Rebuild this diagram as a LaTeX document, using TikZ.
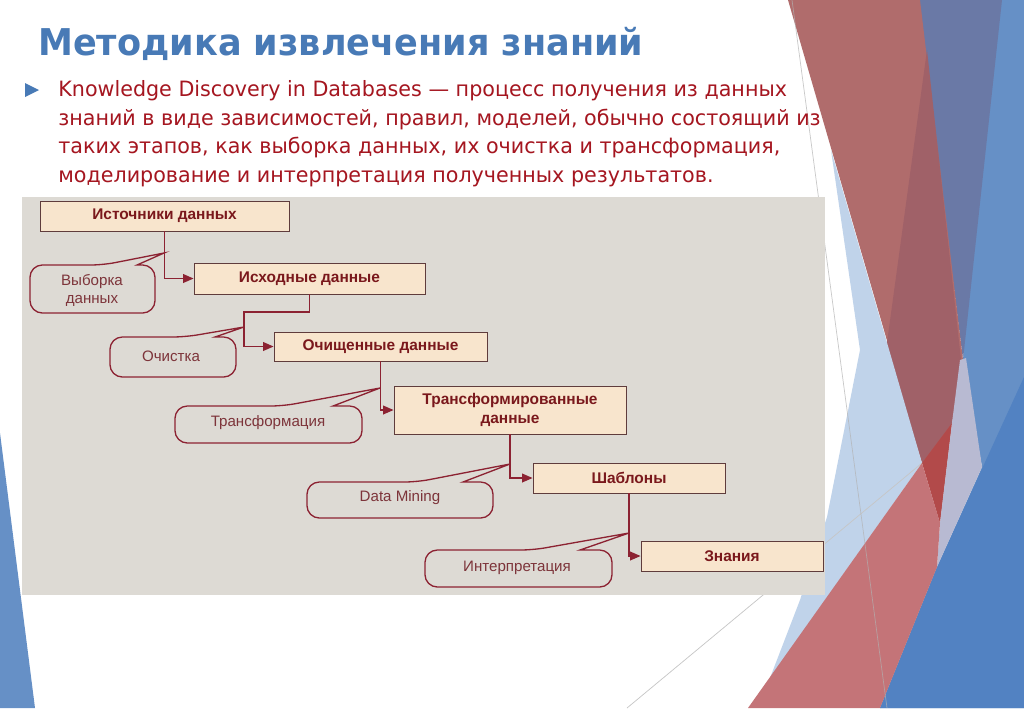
\documentclass[tikz,border=0pt]{standalone}
\usepackage{fontspec}
\setmainfont{DejaVu Sans}
\newfontfamily\titlefont[FakeStretch=0.95]{DejaVu Sans}
\newfontfamily\slidefont[FakeStretch=0.98]{DejaVu Sans}
\newfontfamily\diagfont{Liberation Sans}
\usetikzlibrary{arrows.meta}

\definecolor{titleblue}{RGB}{72,122,182}
\definecolor{bodyred}{RGB}{165,22,32}
\definecolor{boxfill}{RGB}{248,229,205}
\definecolor{boxline}{RGB}{95,60,60}
\definecolor{boxtext}{RGB}{122,24,28}
\definecolor{flowred}{RGB}{140,34,50}
\definecolor{calltxt}{RGB}{125,52,58}
\definecolor{panelgray}{RGB}{221,218,212}
\definecolor{facetred}{RGB}{176,108,108}
\definecolor{facetdark}{RGB}{160,97,104}
\definecolor{facetdeep}{RGB}{178,74,74}
\definecolor{facetlow}{RGB}{196,116,120}
\definecolor{facetslate}{RGB}{106,121,166}
\definecolor{facetblue}{RGB}{102,144,198}
\definecolor{facetnavy}{RGB}{82,130,194}
\definecolor{facetlight}{RGB}{192,211,234}
\definecolor{facetlav}{RGB}{184,186,210}

\tikzset{
  stage/.style={draw=boxline, fill=boxfill, line width=0.5pt, text=boxtext,
    font=\diagfont\bfseries\fontsize{8.8}{10.5}\selectfont, inner sep=0pt, align=center},
  flow/.style={draw=flowred, line width=0.8pt, -{Triangle[length=6pt,width=5pt]}},
  callout/.style={draw=flowred, line width=0.75pt},
  calltext/.style={text=calltxt, font=\diagfont\fontsize{8.6}{10.2}\selectfont, align=center},
}

\begin{document}
\begin{tikzpicture}[x=0.02cm,y=-0.02cm]
\useasboundingbox (0,0) rectangle (1024,708);
\fill[white] (0,0) rectangle (1024,708);

% facets on the right
\fill[facetblue] (990,0) -- (1024,0) -- (1024,708) -- (880,708) -- (937,567) -- (982,467) -- (963,360) -- cycle;
\fill[facetnavy] (1024,377) -- (1024,708) -- (880,708) -- (937,567) -- cycle;
\fill[facetslate] (918,0) -- (1002,0) -- (963,360) -- cycle;
\fill[facetred] (788,0) -- (920,0) -- (963,360) -- (952,423) -- (940,523) -- cycle;
\fill[facetdark] (927,50) -- (961,360) -- (952,423) -- (922,463) -- (886,350) -- cycle;
\fill[facetdeep] (922,463) -- (952,423) -- (940,523) -- cycle;
\fill[facetlav] (952,423) -- (960,360) -- (966,358) -- (982,467) -- (937,567) -- (940,523) -- cycle;
\fill[facetlight] (831,150) -- (922,463) -- (770,678) -- (800,600) -- (827,517) -- (860,350) -- cycle;
\draw[gray!45, line width=0.4pt] (627,708) -- (922,463);
\fill[facetlow] (922,463) -- (748,708) -- (880,708) -- (937,567) -- (940,523) -- cycle;
\draw[gray!60, opacity=0.7, line width=0.4pt] (792,0) -- (887,708);

% facet at the lower left
\fill[facetblue] (0,433) -- (35,708) -- (0,708) -- cycle;

% title and bullet text
\node[anchor=base west, inner sep=0pt, text=titleblue,
  font=\titlefont\bfseries\fontsize{21}{25}\selectfont] (title) at (38,55) {Методика извлечения знаний};
\fill[titleblue] (25,83) -- (39,90) -- (25,97) -- cycle;
\begin{scope}[every node/.style={anchor=base west, inner sep=0pt, text=bodyred,
  font=\slidefont\fontsize{12}{16}\selectfont}]
\node (body1) at (58,96) {Knowledge Discovery in Databases — процесс получения из данных};
\node (body2) at (58,125) {знаний в виде зависимостей, правил, моделей, обычно состоящий из};
\node (body3) at (58,153) {таких этапов, как выборка данных, их очистка и трансформация,};
\node (body4) at (58,182) {моделирование и интерпретация полученных результатов.};
\end{scope}

% diagram panel
\fill[panelgray] (22,197) rectangle (825,595);

% stages
\node[stage, minimum width=4.98cm, minimum height=0.60cm] (src) at (164.5,216) {Источники данных};
\node[stage, minimum width=4.62cm, minimum height=0.62cm] (raw) at (309.5,278.5) {Исходные данные};
\node[stage, minimum width=4.26cm, minimum height=0.58cm] (clean) at (380.5,346.5) {Очищенные данные};
\node[stage, minimum width=4.64cm, minimum height=0.96cm] (trans) at (510,410) {Трансформированные\\данные};
\node[stage, minimum width=3.84cm, minimum height=0.60cm] (pattern) at (629,478) {Шаблоны};
\node[stage, minimum width=3.64cm, minimum height=0.60cm] (know) at (732,556) {Знания};

% flow between stages
\coordinate (jog) at (244,312);
\draw[flow] (src.south) |- (raw.west);
\draw[flow] (raw.south) |- (jog) |- (clean.west);
\draw[flow] (clean.south) |- (trans.west);
\draw[flow] (trans.south) |- (pattern.west);
\draw[flow] (pattern.south) |- (know.west);

% callouts
\draw[callout] (103,265) -- (164,253) -- (137,265) [rounded corners=7pt] -- (155,265) -- (155,313) -- (30,313) -- (30,265) -- cycle;
\node[calltext] (lblSample) at (92,290) {Выборка\\данных};
\draw[callout] (185,337) -- (244,327) -- (215,337) [rounded corners=7pt] -- (236,337) -- (236,377) -- (110,377) -- (110,337) -- cycle;
\node[calltext] (lblClean) at (171,356) {Очистка};
\draw[callout] (283,406) -- (380,388) -- (333,406) [rounded corners=7pt] -- (362,406) -- (362,443) -- (175,443) -- (175,406) -- cycle;
\node[calltext] (lblTrans) at (268,423) {Трансформация};
\draw[callout] (417,482) -- (510,464) -- (463,482) [rounded corners=7pt] -- (493,482) -- (493,518) -- (307,518) -- (307,482) -- cycle;
\node[calltext] (lblMining) at (400,498) {Data Mining};
\draw[callout] (533,550) -- (629,533) -- (580,550) [rounded corners=7pt] -- (612,550) -- (612,587) -- (425,587) -- (425,550) -- cycle;
\node[calltext] (lblInterp) at (517,568) {Интерпретация};

\end{tikzpicture}
\end{document}
